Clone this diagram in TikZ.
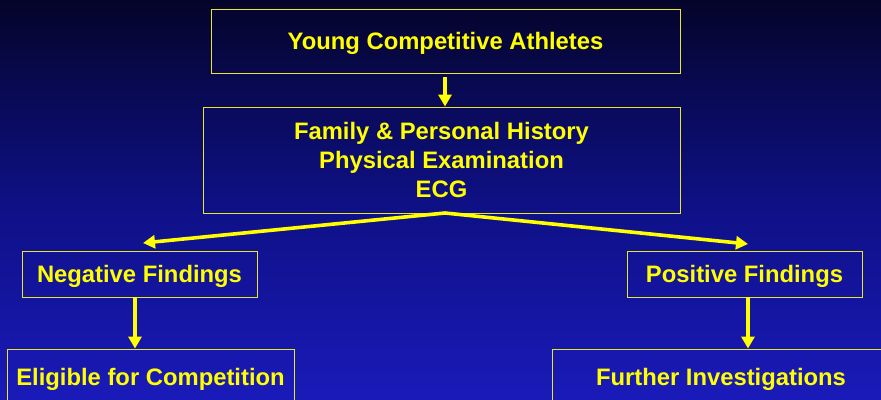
\documentclass[tikz,border=0pt]{standalone}
\usepackage{fontspec}
\setmainfont{Liberation Sans}
\usetikzlibrary{arrows.meta}
\definecolor{bgtop}{RGB}{4,4,42}
\definecolor{bgmid}{RGB}{14,16,132}
\definecolor{bgbot}{RGB}{26,26,185}
\definecolor{ylw}{RGB}{255,255,0}
\definecolor{bordery}{RGB}{232,232,40}
\tikzset{
  box/.style={draw=bordery, line width=0.9pt, rectangle, inner sep=0pt, text=ylw,
    font=\fontsize{23.8}{29}\selectfont\bfseries, align=center},
  one/.style={text height=17pt, text depth=0pt},
  arr/.style={draw=ylw, line width=3.6pt, -{Triangle[length=12pt,width=13pt]}},
}
\begin{document}
\begin{tikzpicture}[x=1pt,y=-1pt]
\useasboundingbox (0,0) rectangle (881,399);
\clip (0,0) rectangle (881,399);
\shade[top color=bgtop, bottom color=bgbot, middle color=bgmid] (0,0) rectangle (881,399);
\node[box,one,minimum width=469pt,minimum height=64pt] (yca) at (445.5,41) {Young Competitive Athletes};
\node[box,minimum width=477pt,minimum height=106pt] (hist) at (441.5,160) {Family \& Personal History\\Physical Examination\\ECG};
\node[box,one,minimum width=235pt,minimum height=46pt] (neg) at (139.5,274) {Negative Findings};
\node[box,one,minimum width=235pt,minimum height=46pt] (pos) at (744.5,274) {Positive Findings};
\node[box,one,minimum width=287pt,minimum height=56pt] (elig) at (150.5,377) {Eligible for Competition};
\node[box,one,minimum width=338pt,minimum height=56pt] (fur) at (721,377) {Further Investigations};
\coordinate (ax) at (445,0);
\coordinate (lx) at (135,0);
\coordinate (rx) at (748,0);
\coordinate (apex) at (445,213);
\coordinate (nl) at (143,243);
\coordinate (nr) at (748,244);
\draw[arr, shorten <=4pt] (yca.south -| ax) -- (hist.north -| ax);
\draw[arr] (apex) -- (nl);
\draw[arr] (apex) -- (nr);
\draw[arr] (neg.south -| lx) -- (elig.north -| lx);
\draw[arr] (pos.south -| rx) -- (fur.north -| rx);
\end{tikzpicture}
\end{document}
